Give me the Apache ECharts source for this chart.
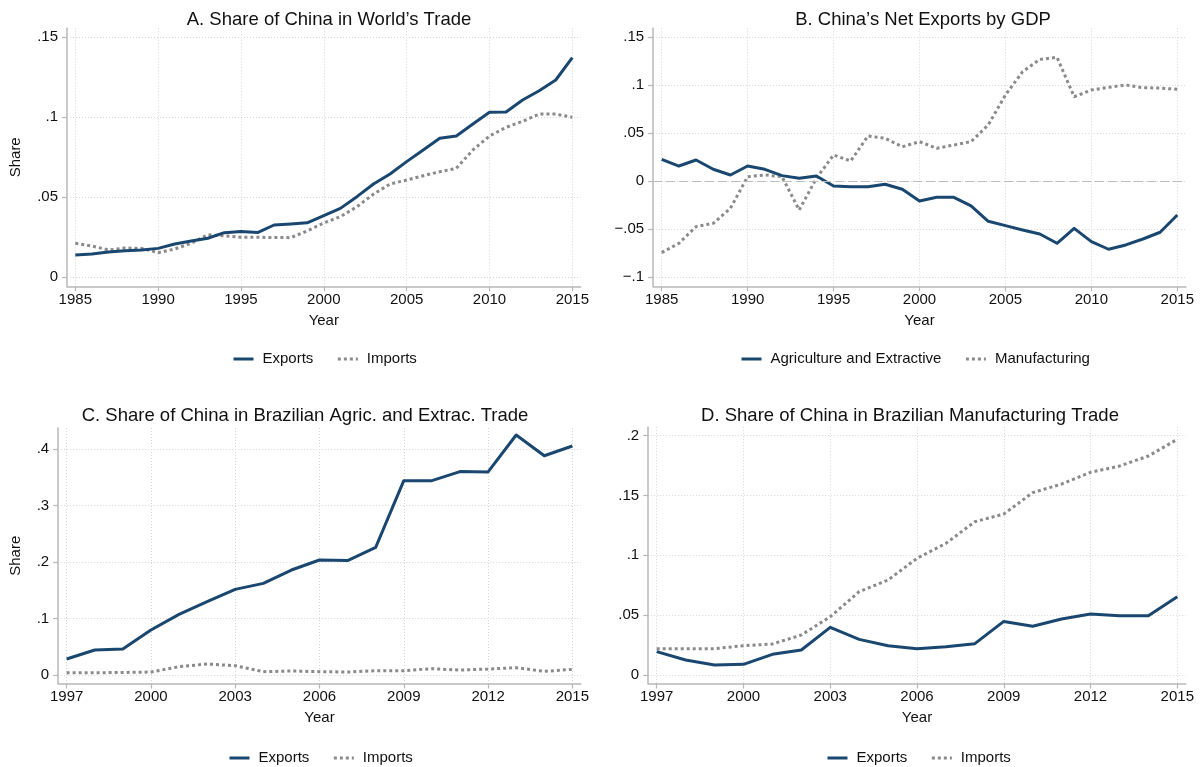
<!DOCTYPE html>
<html><head><meta charset="utf-8">
<script src="https://cdn.jsdelivr.net/npm/echarts@6/dist/echarts.min.js"></script>
<style>html,body{margin:0;padding:0;background:#fff}#c{width:1200px;height:767px}</style>
</head><body><div id="c"></div>
<script>
// ---------- data ----------
const yearsAB = [1985,1986,1987,1988,1989,1990,1991,1992,1993,1994,1995,1996,1997,1998,1999,2000,2001,2002,2003,2004,2005,2006,2007,2008,2009,2010,2011,2012,2013,2014,2015];
const worldExports = [0.0139,0.0146,0.0158,0.0166,0.0171,0.0181,0.0208,0.0227,0.0244,0.0279,0.0287,0.0280,0.0327,0.0333,0.0341,0.0385,0.0431,0.0504,0.0583,0.0646,0.0723,0.0796,0.0869,0.0883,0.0958,0.1031,0.1033,0.1108,0.1166,0.1233,0.1373];
const worldImports = [0.0213,0.0196,0.0171,0.0183,0.0181,0.0154,0.0177,0.0213,0.0266,0.0260,0.0250,0.0250,0.0249,0.0248,0.0290,0.0340,0.0379,0.0441,0.0520,0.0583,0.0608,0.0635,0.0660,0.0681,0.0796,0.0883,0.0937,0.0975,0.1020,0.1020,0.1000];
const netAgri = [0.0229,0.0159,0.0222,0.0125,0.0066,0.0159,0.0125,0.0059,0.0031,0.0055,-0.0049,-0.0056,-0.0056,-0.0031,-0.0083,-0.0205,-0.0167,-0.0167,-0.0257,-0.0417,-0.0462,-0.0507,-0.0549,-0.0646,-0.0490,-0.0629,-0.0708,-0.0663,-0.0601,-0.0531,-0.0351];
const netManuf = [-0.0743,-0.0646,-0.0472,-0.0438,-0.0281,0.0048,0.0066,0.0048,-0.0299,0.0031,0.0274,0.0212,0.0472,0.0448,0.0360,0.0413,0.0344,0.0378,0.0413,0.0587,0.0899,0.1142,0.1270,0.1292,0.0881,0.0951,0.0979,0.1003,0.0975,0.0972,0.0958];
const yearsCD = [1997,1998,1999,2000,2001,2002,2003,2004,2005,2006,2007,2008,2009,2010,2011,2012,2013,2014,2015];
const braAgriExports = [0.0283,0.0442,0.0460,0.0796,0.1074,0.1298,0.1516,0.1622,0.1858,0.2035,0.2025,0.2260,0.3440,0.3440,0.3600,0.3595,0.4248,0.3880,0.4053];
const braAgriImports = [0.0040,0.0040,0.0045,0.0053,0.0147,0.0195,0.0165,0.0059,0.0071,0.0060,0.0053,0.0077,0.0077,0.0112,0.0088,0.0106,0.0130,0.0065,0.0100];
const braManufExports = [0.0195,0.0125,0.0084,0.0089,0.0173,0.0209,0.0398,0.0298,0.0245,0.0220,0.0237,0.0262,0.0448,0.0407,0.0468,0.0510,0.0496,0.0496,0.0654];
const braManufImports = [0.0220,0.0220,0.0220,0.0245,0.0259,0.0334,0.0487,0.0696,0.0794,0.0975,0.1100,0.1281,0.1345,0.1524,0.1596,0.1694,0.1746,0.1830,0.1970];
const xTicksAB = [1985,1990,1995,2000,2005,2010,2015];
const xTicksCD = [1997,2000,2003,2006,2009,2012,2015];
const yTicksA = [0,0.05,0.1,0.15];
const yTicksB = [-0.1,-0.05,0,0.05,0.1,0.15];
const yTicksC = [0,0.1,0.2,0.3,0.4];
const yTicksD = [0,0.05,0.1,0.15,0.2];
const panelTitles = ["A. Share of China in World\u2019s Trade","B. China\u2019s Net Exports by GDP","C. Share of China in Brazilian Agric. and Extrac. Trade","D. Share of China in Brazilian Manufacturing Trade"];
const legendAB_A = ["Exports","Imports"];
const legendAB_B = ["Agriculture and Extractive","Manufacturing"];
const legendCD = ["Exports","Imports"];

// ---------- styling ----------
const NAVY = '#1a476f', GRAY = '#8a8a8a';
const FONT = '"Liberation Sans", Arial, Helvetica, sans-serif';
const FS = 15, TFS = 18.5;
const fmtY = v => v === 0 ? '0' : (v < 0 ? '\u2212' : '') + String(+Math.abs(v).toFixed(4)).replace(/^0/, '');

const grids = [
  {left:67,    top:28.3,  width:513.6, height:258},
  {left:653.1, top:28.3,  width:532.8, height:258},
  {left:58.2,  top:428,   width:522.6, height:255.5},
  {left:648.2, top:427.2, width:537.6, height:256.3}
];
const xr = [[1984.5,2015.5],[1984.5,2015.5],[1996.7,2015.3],[1996.706,2015.294]];
const yr = [[-0.0056,0.1556],[-0.1094,0.1594],[-0.015,0.43717],[-0.0071,0.2071]];
const xt = [xTicksAB,xTicksAB,xTicksCD,xTicksCD];
const yt = [yTicksA,yTicksB,yTicksC,yTicksD];

function xAxis(i){
  return {type:'value', gridIndex:i, min:xr[i][0], max:xr[i][1],
    name:'Year', nameLocation:'middle', nameGap:27,
    nameTextStyle:{fontFamily:FONT,fontSize:FS,color:'#111'},
    axisLine:{show:true,onZero:false,lineStyle:{color:'#b8b8b8',width:1.5}},
    axisTick:{show:true,length:5,customValues:xt[i],lineStyle:{color:'#b8b8b8',width:1.2}},
    axisLabel:{customValues:xt[i],margin:6,fontFamily:FONT,fontSize:FS,color:'#111',formatter:v=>String(v)},
    splitLine:{show:true,lineStyle:{color:'#d6d6d6',width:1,type:[1,2]}}
  };
}
function yAxis(i, withName, nameGap){
  return {type:'value', gridIndex:i, min:yr[i][0], max:yr[i][1],
    name: withName ? 'Share' : '', nameLocation:'middle', nameGap:nameGap, nameRotate:90,
    nameTextStyle:{fontFamily:FONT,fontSize:FS,color:'#111'},
    axisLine:{show:true,onZero:false,lineStyle:{color:'#b8b8b8',width:1.5}},
    axisTick:{show:true,length:5,customValues:yt[i],lineStyle:{color:'#b8b8b8',width:1.2}},
    axisLabel:{customValues:yt[i],margin:9,fontFamily:FONT,fontSize:FS,color:'#111',formatter:fmtY},
    splitLine:{show:true,lineStyle:{color:'#d6d6d6',width:1,type:[1,2]}}
  };
}
function solid(name, idx, xs, ys){
  return {type:'line', name, xAxisIndex:idx, yAxisIndex:idx, symbol:'none',
    data: xs.map((x,k)=>[x,ys[k]]), lineStyle:{color:NAVY,width:3,join:'round'}, itemStyle:{color:NAVY}, z:3};
}
function dotted(name, idx, xs, ys){
  return {type:'line', name, xAxisIndex:idx, yAxisIndex:idx, symbol:'none',
    data: xs.map((x,k)=>[x,ys[k]]), lineStyle:{color:GRAY,width:3,type:[3,3],cap:'butt'}, itemStyle:{color:GRAY}, z:2};
}
function legend(i, names, left, top){
  return {data:names, left, top, padding:0, itemWidth:20, itemHeight:14, itemGap:23,
    itemStyle:{opacity:0}, lineStyle:{width:3},
    textStyle:{fontFamily:FONT,fontSize:FS,color:'#111',padding:[0,0,0,4]}};
}

const netManufSeries = dotted(legendAB_B[1],1,yearsAB,netManuf);
netManufSeries.markLine = {silent:true, symbol:'none', label:{show:false},
  lineStyle:{color:'#bdbdbd',width:1,type:[9,4]}, data:[{yAxis:0}]};

const tstyle = {fontFamily:FONT,fontSize:TFS,fontWeight:'normal',color:'#111'};
const option = {
  backgroundColor:'#fff',
  animation:false,
  title:[
    {text:panelTitles[0], left:324, top:5, textAlign:'center', textStyle:tstyle},
    {text:panelTitles[1], left:918, top:5, textAlign:'center', textStyle:tstyle},
    {text:panelTitles[2], left:300, top:401, textAlign:'center', textStyle:tstyle},
    {text:panelTitles[3], left:905, top:401, textAlign:'center', textStyle:tstyle}
  ],
  legend:[
    legend(0, legendAB_A, 232, 351.5),
    legend(1, legendAB_B, 740, 351.5),
    legend(2, legendCD, 228, 750.5),
    legend(3, legendCD, 826, 750.5)
  ],
  grid: grids,
  xAxis:[xAxis(0),xAxis(1),xAxis(2),xAxis(3)],
  yAxis:[yAxis(0,true,44),yAxis(1,false,40),yAxis(2,true,35),yAxis(3,false,40)],
  series:[
    solid(legendAB_A[0],0,yearsAB,worldExports),
    dotted(legendAB_A[1],0,yearsAB,worldImports),
    solid(legendAB_B[0],1,yearsAB,netAgri),
    netManufSeries,
    solid(legendCD[0],2,yearsCD,braAgriExports),
    dotted(legendCD[1],2,yearsCD,braAgriImports),
    solid(legendCD[0],3,yearsCD,braManufExports),
    dotted(legendCD[1],3,yearsCD,braManufImports)
  ]
};
const chart = echarts.init(document.getElementById('c'), null, {renderer:'canvas'});
chart.setOption(option);
</script></body></html>
